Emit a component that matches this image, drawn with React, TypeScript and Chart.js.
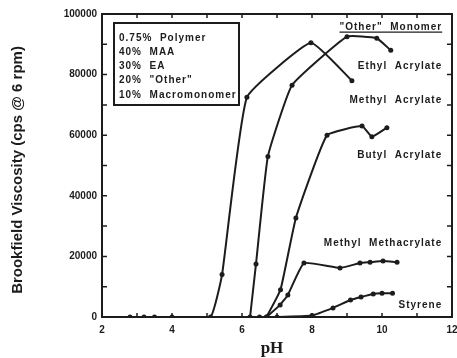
import React, { useEffect, useRef } from "react";
import { Chart, registerables } from "chart.js";

Chart.register(...registerables);

// Axis ticks
const xTickValues = [2, 4, 6, 8, 10, 12];
const yTickValues = [0, 20000, 40000, 60000, 80000, 100000];

// Series (pH vs Brookfield viscosity, cps @ 6 rpm)
const methylAcrylatePH = [2.8, 3.2, 3.5, 4.0, 5.1, 5.43, 6.14, 7.97, 9.14];
const methylAcrylateVisc = [0, 0, 0, 0, 0, 14000, 72500, 90500, 78000];

const ethylAcrylatePH = [6.23, 6.4, 6.74, 7.43, 9.0, 9.85, 10.25];
const ethylAcrylateVisc = [0, 17500, 53000, 76500, 92500, 92000, 88000];

const butylAcrylatePH = [6.7, 7.1, 7.54, 8.43, 9.43, 9.71, 10.14];
const butylAcrylateVisc = [0, 9000, 32700, 60000, 63000, 59500, 62500];

const mmaPH = [6.7, 7.09, 7.31, 7.77, 8.8, 9.37, 9.66, 10.03, 10.43];
const mmaVisc = [0, 4000, 7300, 17800, 16200, 17800, 18100, 18500, 18100];

const styrenePH = [6.5, 7.0, 8.0, 8.6, 9.1, 9.4, 9.75, 10.0, 10.3];
const styreneVisc = [0, 0, 500, 3000, 5600, 6600, 7600, 7800, 7800];

// Annotation text
const boxLines = ["0.75%  Polymer", "40%  MAA", "30%  EA", "20%  \"Other\"", "10%  Macromonomer"];
const labelTexts = ["Ethyl  Acrylate", "Methyl  Acrylate", "Butyl  Acrylate", "Methyl  Methacrylate", "Styrene"];
const labelValues = [82800, 71600, 53500, 24400, 4000];
const headerText = "\"Other\"  Monomer";
const headerValue = 95700;
const labelPH = 11.72;

const INK = "#1c1c1c";

const toPoints = (xs: number[], ys: number[]) => xs.map((x, i) => ({ x, y: ys[i] }));

export default function App() {
  const ref = useRef<HTMLCanvasElement | null>(null);

  useEffect(() => {
    if (!ref.current) return;

    const decor = {
      id: "decor",
      afterDraw(chart: any) {
        const { ctx, chartArea } = chart;
        const xs = chart.scales.x;
        const ys = chart.scales.y;
        const { left, right, top, bottom } = chartArea;
        ctx.save();
        ctx.strokeStyle = INK;
        ctx.fillStyle = INK;
        // frame
        ctx.lineWidth = 2;
        ctx.strokeRect(left, top, right - left, bottom - top);
        // inward ticks
        ctx.lineWidth = 1.5;
        for (let v = 0; v <= 100000; v += 10000) {
          const py = ys.getPixelForValue(v);
          ctx.beginPath();
          ctx.moveTo(left, py); ctx.lineTo(left + 5, py);
          ctx.moveTo(right, py); ctx.lineTo(right - 5, py);
          ctx.stroke();
        }
        for (let v = 2; v <= 12; v += 1) {
          const px = xs.getPixelForValue(v);
          ctx.beginPath();
          ctx.moveTo(px, bottom); ctx.lineTo(px, bottom - 4);
          ctx.moveTo(px, top); ctx.lineTo(px, top + 4);
          ctx.stroke();
        }
        // composition box
        const bx = left + 12, by = top + 9, bw = 125, bh = 82;
        ctx.lineWidth = 2;
        ctx.strokeRect(bx, by, bw, bh);
        ctx.font = "bold 10px 'Liberation Sans', Arial, sans-serif";
        (ctx as any).letterSpacing = "1px";
        ctx.textAlign = "left";
        ctx.textBaseline = "middle";
        boxLines.forEach((t, i) => {
          ctx.fillText(t, bx + 5, by + 15 + i * 14.2);
        });
        // curve labels
        ctx.textAlign = "right";
        const lx = xs.getPixelForValue(labelPH);
        labelTexts.forEach((t, i) => {
          ctx.fillText(t, lx, ys.getPixelForValue(labelValues[i]));
        });
        const hy = ys.getPixelForValue(headerValue);
        ctx.fillText(headerText, lx, hy);
        const hw = ctx.measureText(headerText).width;
        ctx.lineWidth = 1.2;
        ctx.beginPath();
        ctx.moveTo(lx - hw, hy + 5);
        ctx.lineTo(lx, hy + 5);
        ctx.stroke();
        (ctx as any).letterSpacing = "0px";
        // axis titles
        ctx.textAlign = "center";
        ctx.textBaseline = "middle";
        ctx.font = "bold 17px 'Liberation Serif', 'DejaVu Serif', serif";
        ctx.fillText("pH", 272, 349);
        ctx.translate(18, 170);
        ctx.rotate(-Math.PI / 2);
        ctx.font = "bold 15px 'Liberation Sans', Arial, sans-serif";
        ctx.fillText("Brookfield Viscosity (cps @ 6 rpm)", 0, 0);
        ctx.restore();
      },
    };

    const ds = (label: string, xs: number[], ys: number[]) => ({
      label,
      data: toPoints(xs, ys),
      showLine: true,
      borderColor: INK,
      backgroundColor: INK,
      borderWidth: 2,
      pointRadius: 2.5,
      pointBorderWidth: 0,
      tension: 0.12,
    });

    const chart = new Chart(ref.current, {
      type: "scatter",
      data: {
        datasets: [
          ds("Methyl Acrylate", methylAcrylatePH, methylAcrylateVisc),
          ds("Ethyl Acrylate", ethylAcrylatePH, ethylAcrylateVisc),
          ds("Butyl Acrylate", butylAcrylatePH, butylAcrylateVisc),
          ds("Methyl Methacrylate", mmaPH, mmaVisc),
          ds("Styrene", styrenePH, styreneVisc),
        ],
      },
      options: {
        responsive: false,
        animation: false,
        layout: { padding: { top: 14, right: 5, left: 0, bottom: 0 } },
        plugins: { legend: { display: false }, tooltip: { enabled: false } },
        scales: {
          x: {
            type: "linear",
            min: 2,
            max: 12,
            afterBuildTicks: (s: any) => { s.ticks = xTickValues.map((v) => ({ value: v })); },
            afterFit: (s: any) => { s.height = 41; s.paddingLeft = 0; s.paddingRight = 0; },
            grid: { display: false, drawTicks: false },
            border: { display: false },
            ticks: { color: INK, padding: 7, font: { size: 10, weight: "bold", family: "'Liberation Sans', Arial, sans-serif" } },
          },
          y: {
            type: "linear",
            min: 0,
            max: 100000,
            afterBuildTicks: (s: any) => { s.ticks = yTickValues.map((v) => ({ value: v })); },
            afterFit: (s: any) => { s.width = 102; s.paddingTop = 0; s.paddingBottom = 0; },
            grid: { display: false, drawTicks: false },
            border: { display: false },
            ticks: { color: INK, padding: 5, font: { size: 10, weight: "bold", family: "'Liberation Sans', Arial, sans-serif" }, callback: (v: any) => String(v) },
          },
        },
      },
      plugins: [decor],
    } as any);

    return () => chart.destroy();
  }, []);

  return (
    <div style={{ position: "absolute", left: 0, top: 0, width: 457, height: 358, background: "#fff" }}>
      <canvas ref={ref} width={457} height={358} style={{ display: "block" }} />
    </div>
  );
}
